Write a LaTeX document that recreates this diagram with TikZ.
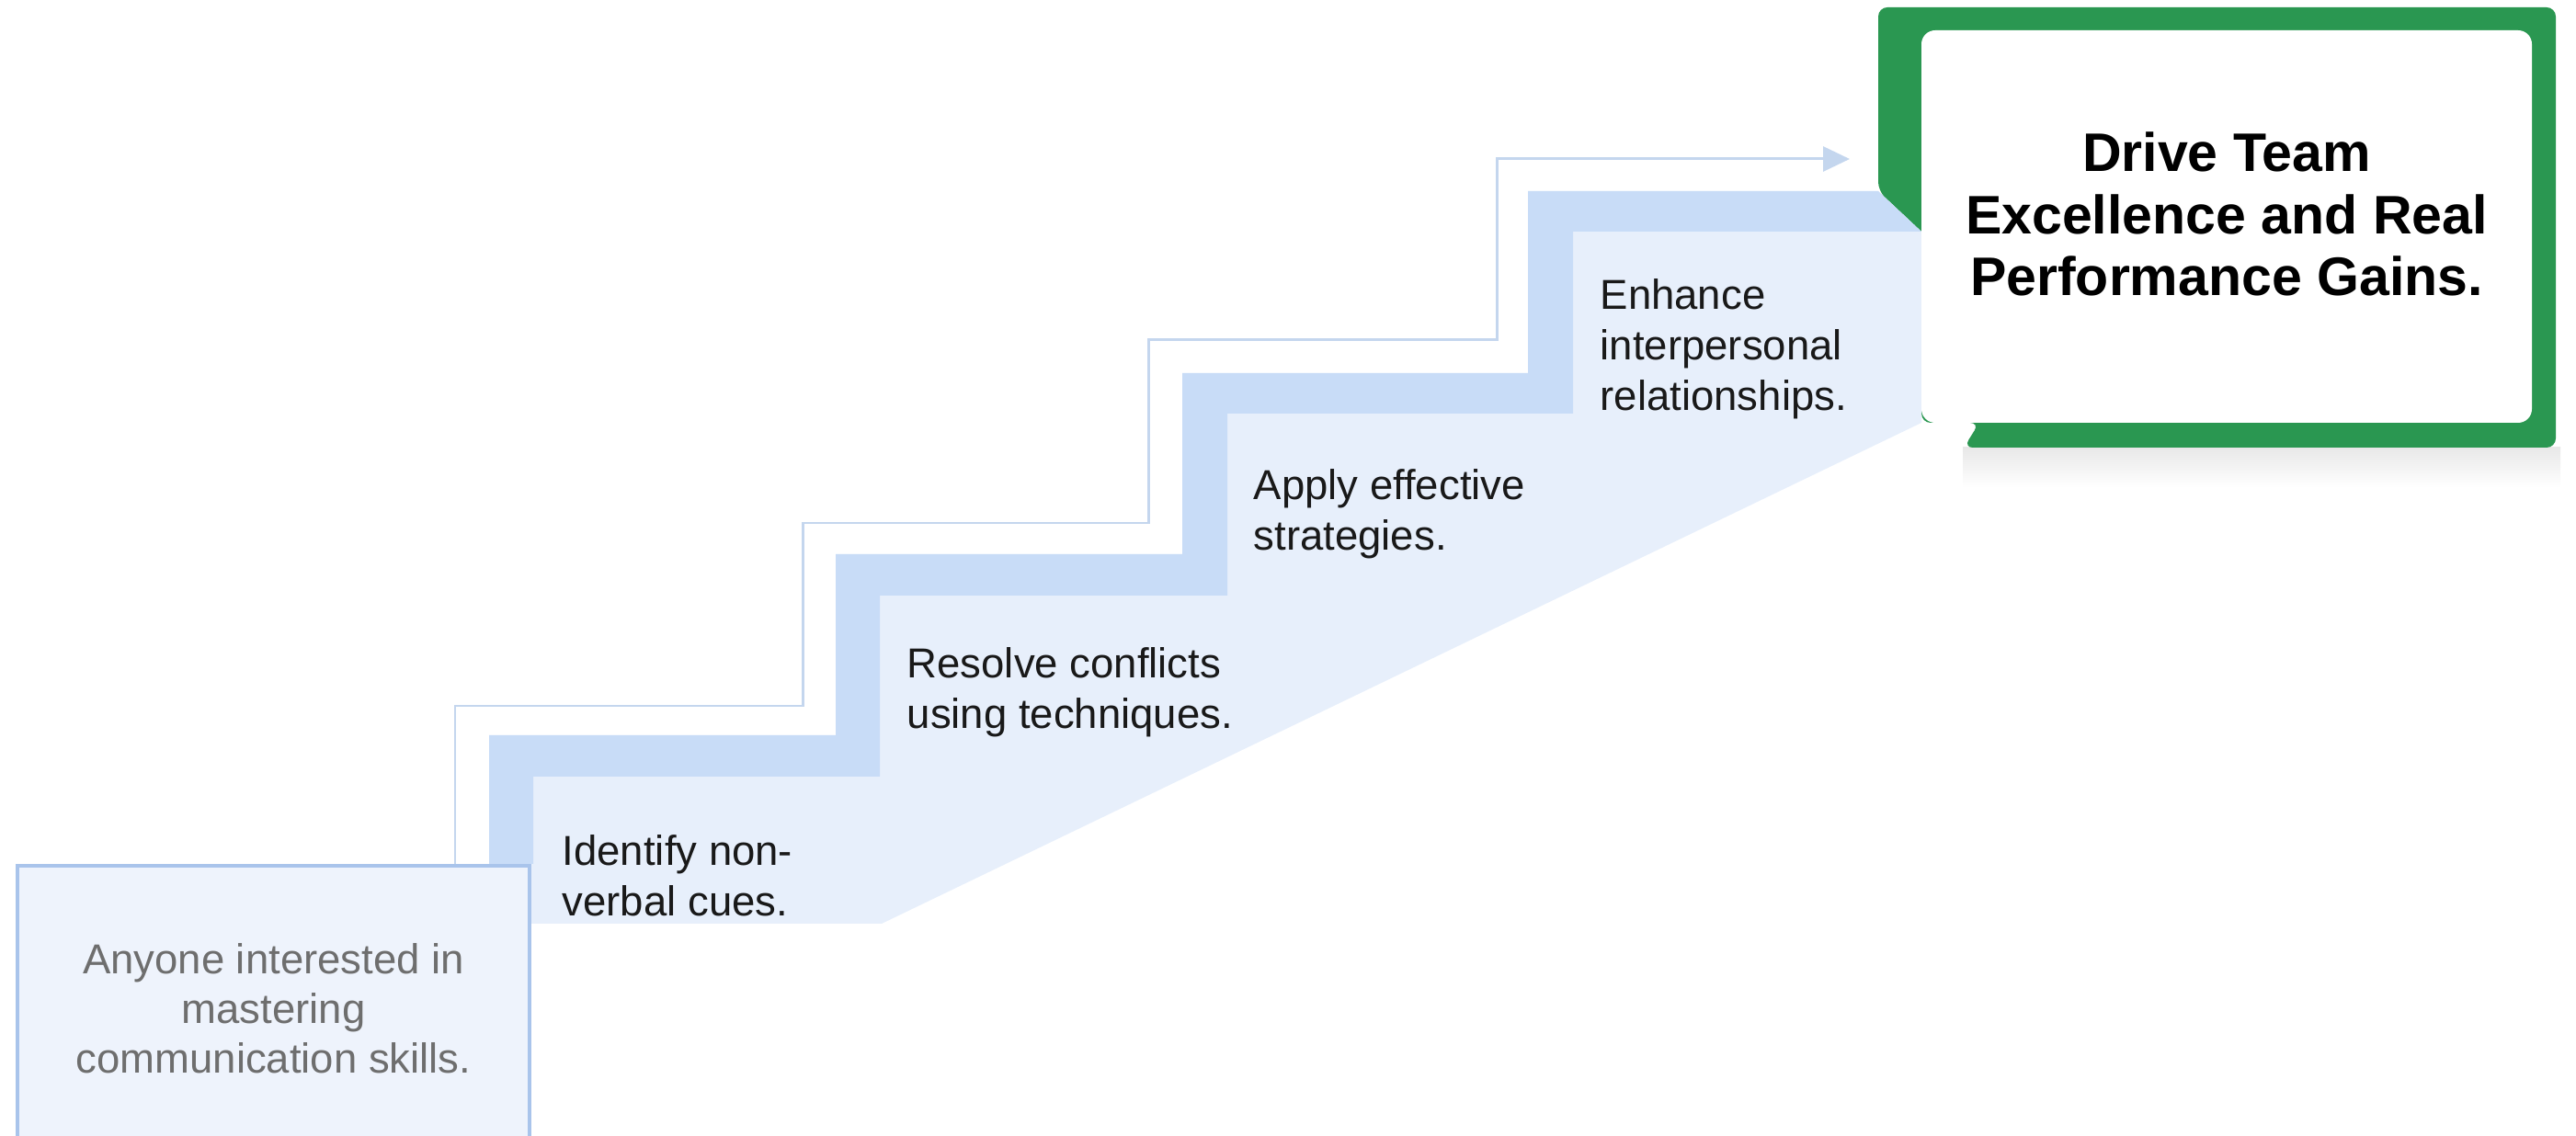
\documentclass[tikz,border=0pt]{standalone}
\usepackage{fontspec}
\setmainfont{Liberation Sans}
\usetikzlibrary{arrows.meta}

\definecolor{bandblue}{HTML}{C8DCF7}
\definecolor{fillblue}{HTML}{E7EFFB}
\definecolor{trailblue}{HTML}{C4D6EE}
\definecolor{boxline}{HTML}{A9C4EB}
\definecolor{boxfill}{HTML}{EEF3FC}
\definecolor{goalgreen}{HTML}{2A9751}
\definecolor{softgray}{HTML}{6E6E6E}

\begin{document}
\begin{tikzpicture}
      \tikzset { stepnote/.style = { anchor=north west, inner sep=0pt, align=left, text=black!90, font=\fontsize{12.95}{15.6}\selectfont } }
      \tikzset { startbox/.style = { draw=boxline, fill=boxfill, line width=1.1pt, anchor=north, minimum width=5.57cm, minimum height=3.1cm, align=center, text=softgray, font=\fontsize{12.95}{15.4}\selectfont } }
      \tikzset { goalcard/.style = { fill=white, rounded corners=0.15cm, minimum width=6.64cm, minimum height=4.27cm } }
      \tikzset { goaltext/.style = { align=center, inner sep=0pt, font=\bfseries\fontsize{16.8}{19.1}\selectfont } }
      \tikzset { trail/.style = { draw=trailblue, line width=0.85pt, -{Triangle[length=2.9mm,width=2.7mm]} } }

      \useasboundingbox (0,0) rectangle (28.02,12.35);

      % green frame
      \shade[top color=black!9, bottom color=white] (21.35,7.48) rectangle (27.85,7.05);
      \fill[goalgreen, rounded corners=0.1cm] (20.43,10.27) -- (20.43,12.27) -- (27.80,12.27) -- (27.80,7.48) -- (21.36,7.48) -- (21.53,7.75) -- (20.90,7.75) -- (20.90,9.83) -- cycle;

      % stairs
      \fill[fillblue] (5.32,2.30) -- (9.59,2.30) -- (20.90,7.75) -- (20.90,9.83) -- (20.43,10.27) -- (16.62,10.27) -- (16.62,8.29) -- (12.86,8.29) -- (12.86,6.32) -- (9.09,6.32) -- (9.09,4.35) -- (5.32,4.35) -- cycle;
      \fill[bandblue] (5.32,2.95) -- (5.32,4.35) -- (9.09,4.35) -- (9.09,6.32) -- (12.86,6.32) -- (12.86,8.29) -- (16.62,8.29) -- (16.62,10.27) -- (20.43,10.27) -- (20.90,9.83) -- (17.11,9.83) -- (17.11,7.85) -- (13.35,7.85) -- (13.35,5.87) -- (9.57,5.87) -- (9.57,3.90) -- (5.80,3.90) -- (5.80,2.95) -- cycle;

      \node[startbox] (start) at (2.975,2.95) {Anyone interested in\\mastering\\communication skills.};
      \node[goalcard] (goal) at (24.22,9.885) {};
      \node[goaltext] (title) at (24.22,10.02) {Drive Team\\Excellence and Real\\Performance Gains.};

      \node[stepnote] (s1) at (6.11,3.27) {Identify non-\\verbal cues.};
      \node[stepnote] (s2) at (9.86,5.31) {Resolve conflicts\\using techniques.};
      \node[stepnote] (s3) at (13.63,7.25) {Apply effective\\strategies.};
      \node[stepnote] (s4) at (17.40,9.32) {Enhance\\interpersonal\\relationships.};

      \coordinate (tip) at (20.12,10.62);
      \draw[trail] (4.95,0 |- start.north) -- (4.95,4.67) -- (8.73,4.67) -- (8.73,6.66) -- (12.49,6.66) -- (12.49,8.65) -- (16.28,8.65) -- (16.28,10.62) -- (tip);

    \end{tikzpicture}
\end{document}
